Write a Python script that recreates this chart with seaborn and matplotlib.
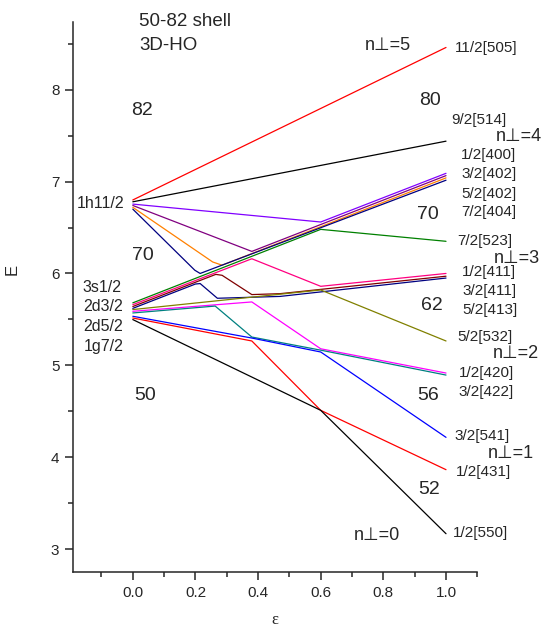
import pandas as pd
import seaborn as sns
import matplotlib.pyplot as plt
from matplotlib.ticker import MultipleLocator

# Nilsson levels of the 50-82 shell, (eps, E)
# from 1h11/2
red_505 = [(0.0, 6.80), (1.0, 8.46)]
black_514 = [(0.0, 6.78), (1.0, 7.44)]
violet_404 = [(0.0, 6.755), (0.6, 6.56), (1.0, 7.09)]
purple_402 = [(0.0, 6.74), (0.38, 6.24), (1.0, 7.065)]
orange_402 = [(0.0, 6.72), (0.255, 6.125), (0.285, 6.09), (1.0, 7.04)]
navy_400 = [(0.0, 6.70), (0.198, 6.035), (0.215, 6.0), (1.0, 7.015)]
# from 3s1/2, 2d3/2, 2d5/2, 1g7/2
green_523 = [(0.0, 5.68), (0.6, 6.48), (1.0, 6.35)]
pink_413 = [(0.0, 5.66), (0.38, 6.16), (0.6, 5.86), (1.0, 6.00)]
wine_411 = [(0.0, 5.64), (0.265, 5.99), (0.285, 5.98), (0.38, 5.77), (0.47, 5.78), (1.0, 5.97)]
navy_411 = [(0.0, 5.62), (0.2, 5.885), (0.215, 5.89), (0.27, 5.73), (0.47, 5.75), (1.0, 5.95)]
olive_532 = [(0.0, 5.607), (0.6, 5.82), (1.0, 5.265)]
magenta_420 = [(0.0, 5.588), (0.38, 5.69), (0.6, 5.18), (1.0, 4.916)]
teal_422 = [(0.0, 5.57), (0.263, 5.645), (0.38, 5.308), (0.6, 5.165), (1.0, 4.894)]
blue_541 = [(0.0, 5.534), (0.38, 5.297), (0.6, 5.145), (1.0, 4.216)]
red_431 = [(0.0, 5.515), (0.38, 5.265), (0.6, 4.51), (1.0, 3.864)]
black_550 = [(0.0, 5.498), (0.6, 4.51), (1.0, 3.167)]

levels = [("11/2[505]", red_505, "#FF0000"), ("9/2[514]", black_514, "#000000"),
          ("7/2[404]", violet_404, "#8000FF"), ("5/2[402]", purple_402, "#800080"),
          ("3/2[402]", orange_402, "#FF8000"), ("1/2[400]", navy_400, "#000080"),
          ("7/2[523]", green_523, "#008000"), ("5/2[413]", pink_413, "#FF0080"),
          ("3/2[411]", wine_411, "#800000"), ("1/2[411]", navy_411, "#000080"),
          ("5/2[532]", olive_532, "#808000"), ("1/2[420]", magenta_420, "#FF00FF"),
          ("3/2[422]", teal_422, "#008080"), ("3/2[541]", blue_541, "#0000FF"),
          ("1/2[431]", red_431, "#FF0000"), ("1/2[550]", black_550, "#000000")]

rows = []
for name, pts, col in levels:
    for eps, e in pts:
        rows.append({"level": name, "eps": eps, "E": e})
df = pd.DataFrame(rows)
palette = {name: col for name, pts, col in levels}

# text labels (text, eps, E)
shell_labels = [("1h11/2", -0.028, 6.765), ("3s1/2", -0.035, 5.844), ("2d3/2", -0.03, 5.643),
                ("2d5/2", -0.03, 5.42), ("1g7/2", -0.03, 5.207)]
magic_labels = [("82", 0.030, 7.778), ("70", 0.033, 6.193), ("50", 0.039, 4.673),
                ("80", 0.950, 7.887), ("70", 0.943, 6.645), ("62", 0.956, 5.654),
                ("56", 0.943, 4.673), ("52", 0.947, 3.649)]
nperp_labels = [("n\u22a5=5", 0.742, 8.486), ("n\u22a5=4", 1.160, 7.495), ("n\u22a5=3", 1.153, 6.166),
                ("n\u22a5=2", 1.148, 5.131), ("n\u22a5=1", 1.133, 4.042), ("n\u22a5=0", 0.704, 3.148)]
orbit_labels = [("11/2[505]", 1.027, 8.453), ("9/2[514]", 1.017, 7.669), ("1/2[400]", 1.049, 7.288),
                ("3/2[402]", 1.049, 7.081), ("5/2[402]", 1.049, 6.868), ("7/2[404]", 1.049, 6.667),
                ("7/2[523]", 1.036, 6.351), ("1/2[411]", 1.052, 6.019), ("3/2[411]", 1.052, 5.806),
                ("5/2[413]", 1.052, 5.599), ("5/2[532]", 1.036, 5.305), ("1/2[420]", 1.042, 4.913),
                ("3/2[422]", 1.039, 4.711), ("3/2[541]", 1.027, 4.227), ("1/2[431]", 1.033, 3.834),
                ("1/2[550]", 1.023, 3.170)]

sns.set_style("ticks")
plt.rcParams["font.family"] = ["Liberation Sans", "DejaVu Sans"]

fig = plt.figure(figsize=(5.41, 6.32), dpi=100)
ax = fig.add_axes([0.1355, 0.0949, 0.7468, 0.8707])

sns.lineplot(data=df, x="eps", y="E", hue="level", hue_order=[l[0] for l in levels],
             palette=palette, units="level", estimator=None, sort=False,
             legend=False, lw=0.9, ax=ax)

ax.set_xlim(-0.19, 1.10)
ax.set_ylim(2.75, 8.74)
ax.xaxis.set_minor_locator(MultipleLocator(0.1))
ax.yaxis.set_major_locator(MultipleLocator(1))
ax.yaxis.set_minor_locator(MultipleLocator(0.5))
ax.set_xticks([0.0, 0.2, 0.4, 0.6, 0.8, 1.0])
ax.set_xticklabels(["0.0", "0.2", "0.4", "0.6", "0.8", "1.0"])
ax.tick_params(which="major", direction="out", length=6, width=1.1, labelsize=11, pad=4)
ax.tick_params(which="minor", direction="out", length=3.6, width=1.1)
sns.despine(ax=ax)
for s in ["left", "bottom"]:
    ax.spines[s].set_linewidth(1.1)

ax.set_xlabel("\u03b5", fontsize=12, family=["Liberation Serif", "DejaVu Serif"])
ax.set_ylabel("E", fontsize=12, rotation=90)
ax.xaxis.set_label_coords(0.5, -0.073)
ax.yaxis.set_label_coords(-0.132, 0.549)

ax.text(0.020, 8.747, "50-82 shell", fontsize=13.5, ha="left", va="center")
ax.text(0.020, 8.486, "3D-HO", fontsize=13.5, ha="left", va="center")
for t, x, y in shell_labels:
    ax.text(x, y, t, fontsize=11.5, ha="right", va="center")
for t, x, y in magic_labels:
    ax.text(x, y, t, fontsize=14, ha="center", va="center")
for t, x, y in nperp_labels:
    ax.text(x, y, t, fontsize=13, ha="left", va="center")
for t, x, y in orbit_labels:
    ax.text(x, y, t, fontsize=11, ha="left", va="center")

plt.savefig("out.png", dpi=100)
